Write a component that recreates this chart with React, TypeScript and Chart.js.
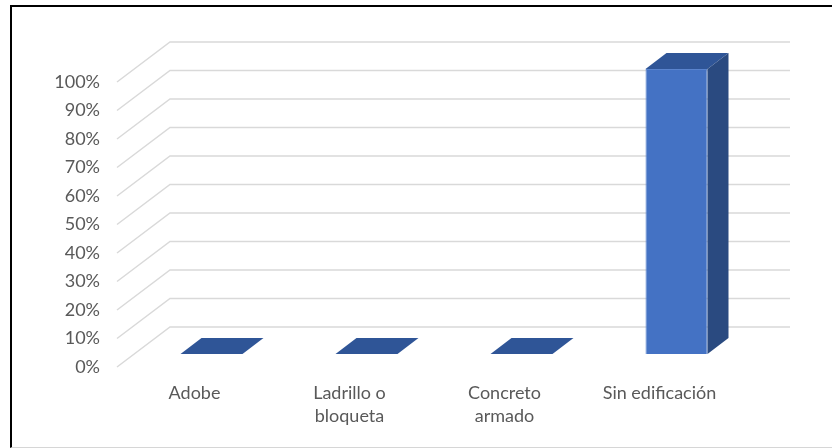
import React, { useEffect, useRef } from "react";
import { Chart, registerables } from "chart.js";

Chart.register(...registerables);

const categories: (string | string[])[] = [
  "Adobe",
  ["Ladrillo o", "bloqueta"],
  ["Concreto", "armado"],
  "Sin edificación",
];
const values: number[] = [0, 0, 0, 100];
const tickStep = 10;
const yMax = 100;

const FRONT = "#4472C4";
const TOP = "#2F5597";
const SIDE = "#2A4A80";
const GRID = "#D9D9D9";

// 3D geometry (pixels)
const WALL_DX = 53;
const WALL_DY = 40;
const BAR_OFF_DX = 17;
const BAR_OFF_DY = 13;
const BAR_DEPTH_DX = 21;
const BAR_DEPTH_DY = 16;

const threeD = {
  id: "threeD",
  beforeDatasetsDraw(chart: any) {
    const { ctx, chartArea, scales } = chart;
    const ys = scales.y;
    ctx.save();
    ctx.strokeStyle = GRID;
    ctx.lineWidth = 1.5;
    for (let v = 0; v <= yMax; v += tickStep) {
      const y = ys.getPixelForValue(v);
      ctx.beginPath();
      ctx.moveTo(chartArea.left, y);
      ctx.lineTo(chartArea.left + WALL_DX, y - WALL_DY);
      ctx.lineTo(chartArea.right + WALL_DX, y - WALL_DY);
      ctx.stroke();
    }
    ctx.restore();
    ctx.save();
    ctx.translate(BAR_OFF_DX, -BAR_OFF_DY);
  },
  afterDatasetsDraw(chart: any) {
    const { ctx } = chart;
    ctx.restore();
    const meta = chart.getDatasetMeta(0);
    ctx.save();
    ctx.translate(BAR_OFF_DX, -BAR_OFF_DY);
    meta.data.forEach((el: any) => {
      const p = el.getProps(["x", "y", "base", "width"], true);
      const l = p.x - p.width / 2;
      const r = p.x + p.width / 2;
      const t = Math.min(p.y, p.base);
      const b = Math.max(p.y, p.base);
      // top face
      ctx.fillStyle = TOP;
      ctx.beginPath();
      ctx.moveTo(l, t);
      ctx.lineTo(l + BAR_DEPTH_DX, t - BAR_DEPTH_DY);
      ctx.lineTo(r + BAR_DEPTH_DX, t - BAR_DEPTH_DY);
      ctx.lineTo(r, t);
      ctx.closePath();
      ctx.fill();
      if (b - t > 0.5) {
        ctx.fillStyle = SIDE;
        ctx.beginPath();
        ctx.moveTo(r, t);
        ctx.lineTo(r + BAR_DEPTH_DX, t - BAR_DEPTH_DY);
        ctx.lineTo(r + BAR_DEPTH_DX, b - BAR_DEPTH_DY);
        ctx.lineTo(r, b);
        ctx.closePath();
        ctx.fill();
      }
    });
    ctx.restore();
  },
};

export default function App() {
  const ref = useRef<HTMLCanvasElement>(null);
  useEffect(() => {
    if (!ref.current) return;
    const chart = new Chart(ref.current, {
      type: "bar",
      data: {
        labels: categories,
        datasets: [
          {
            data: values,
            backgroundColor: FRONT,
            borderColor: "#5A84CE",
            borderWidth: 1,
            barPercentage: 0.4,
            categoryPercentage: 1,
            clip: false as any,
          },
        ],
      },
      options: {
        responsive: false,
        animation: false,
        layout: { padding: { top: 82, right: 95, bottom: 0, left: 0 } },
        plugins: { legend: { display: false }, tooltip: { enabled: false } },
        scales: {
          x: {
            grid: { display: false, drawTicks: false },
            border: { display: false },
            ticks: {
              color: "#595959",
              font: { family: "Lato", size: 18, lineHeight: 1.25 },
              padding: 15,
              maxRotation: 0,
              autoSkip: false,
            },
            afterFit: (s: any) => {
              s.height = 81;
            },
          },
          y: {
            min: 0,
            max: yMax,
            grid: { display: false, drawTicks: false },
            border: { display: false },
            ticks: {
              stepSize: tickStep,
              color: "#595959",
              font: { family: "Lato", size: 18 },
              padding: 17,
              callback: (v: any) => v + "%",
            },
            afterFit: (s: any) => {
              s.width = 117;
            },
          },
        },
      },
      plugins: [threeD],
    });
    return () => chart.destroy();
  }, []);

  return (
    <div
      style={{
        position: "fixed",
        left: 0,
        top: 0,
        width: 832,
        height: 448,
        overflow: "hidden",
        background: "#fff",
      }}
    >
      <div
        style={{
          position: "absolute",
          left: 10,
          top: 5,
          width: 840,
          height: 443,
          boxSizing: "border-box",
          borderLeft: "2px solid #000",
          borderTop: "2px solid #000",
          borderBottom: "1px solid #D6D6D6",
        }}
      />
      <canvas
        ref={ref}
        width={832}
        height={448}
        style={{ position: "absolute", left: 0, top: 0, width: 832, height: 448 }}
      />
    </div>
  );
}
